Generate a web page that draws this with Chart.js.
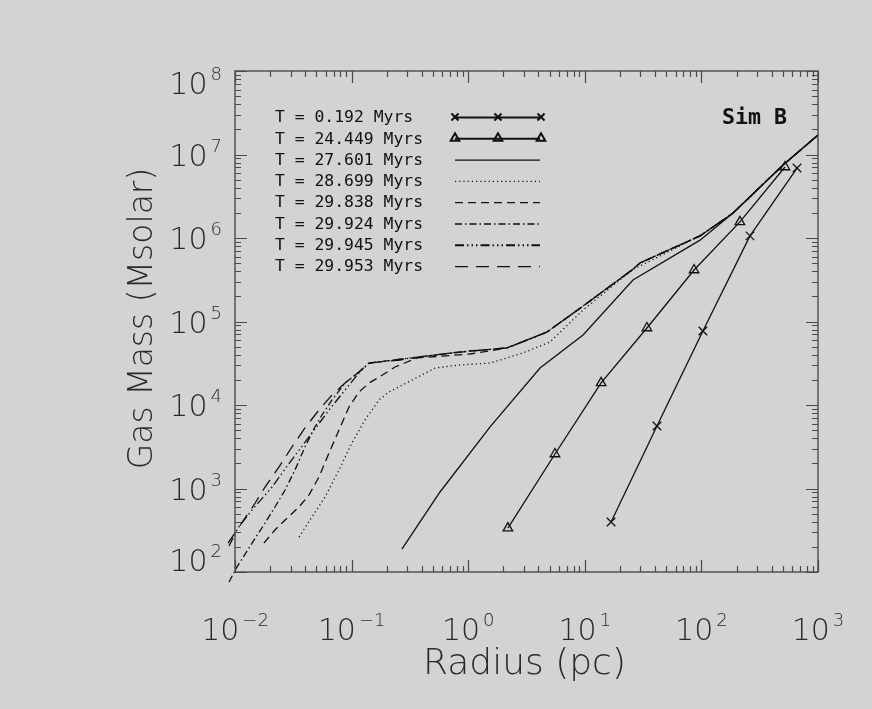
<!DOCTYPE html>
<html>
<head>
<meta charset="utf-8">
<script src="https://cdn.jsdelivr.net/npm/chart.js@4.4.1/dist/chart.umd.min.js"></script>
<style>
  html, body { margin: 0; padding: 0; background: #d3d3d3; }
  canvas { display: block; }
</style>
</head>
<body>
<canvas id="massChart" width="872" height="709"></canvas>
<script>
// Enclosed gas mass against radius for simulation B, one curve per snapshot time.

const snapshotLabels = [
  'T = 0.192 Myrs', 'T = 24.449 Myrs', 'T = 27.601 Myrs', 'T = 28.699 Myrs',
  'T = 29.838 Myrs', 'T = 29.924 Myrs', 'T = 29.945 Myrs', 'T = 29.953 Myrs'
];

// T = 0.192 Myrs
const radius0192 = [16.8, 41.6, 103, 261, 661];
const mass0192   = [397, 5610, 76900, 1.06e6, 6.89e6];

// T = 24.449 Myrs
const radius24449 = [2.19, 5.55, 13.8, 34.1, 86.5, 214, 521];
const mass24449   = [336, 2590, 18400, 83600, 414000, 1.56e6, 7.08e6];

// T = 27.601 Myrs
const radius27601 = [0.270, 0.573, 1.54, 4.13, 9.66, 25.9, 97.3, 187, 501, 1000];
const mass27601   = [188, 908, 5460, 27700, 68900, 314000, 943000, 1.99e6, 7.48e6, 1.71e7];

// outer profile common to the late snapshots
const tailRadius = [2.15, 4.74, 9.66, 25.4, 29.7, 97.3, 187, 501, 1000];
const tailMass   = [48200, 74800, 153000, 414000, 502000, 1.06e6, 1.99e6, 7.48e6, 1.71e7];

// T = 28.699 Myrs
const radius28699 = [0.0354, 0.0457, 0.0592, 0.078, 0.1007, 0.130, 0.172, 0.209, 0.330, 0.519, 0.834, 1.54, 2.95, 5.03, 9.66, 25.4, 97.3, 187, 501, 1000];
const mass28699   = [262, 456, 791, 1667, 3510, 6610, 11500, 14300, 19900, 27700, 30100, 31800, 42000, 56800, 137000, 414000, 1.06e6, 1.99e6, 7.48e6, 1.71e7];

// T = 29.838 Myrs (inner part, then the common tail)
const radius29838 = [0.0177, 0.022, 0.0269, 0.0354, 0.0431, 0.0525, 0.064, 0.078, 0.095, 0.1156, 0.141, 0.172, 0.236, 0.364, 1.035];
const mass29838   = [222, 318, 420, 600, 836, 1374, 2660, 5020, 9470, 14300, 18300, 21600, 28500, 36600, 40800];

// T = 29.924 Myrs
const radius29924 = [0.00889, 0.0104, 0.014, 0.0181, 0.022, 0.0269, 0.0327, 0.0398, 0.0485, 0.0557, 0.0679, 0.0878, 0.1156, 0.141, 0.386, 1.035];
const mass29924   = [75.9, 115, 222, 386, 600, 959, 1667, 3140, 5460, 7590, 11500, 18300, 24800, 31800, 37600, 44400];

// T = 29.945 Myrs
const radius29945 = [0.00889, 0.0106, 0.014, 0.0208, 0.0297, 0.0431, 0.064, 0.0878, 0.1156, 0.141, 0.317, 0.851];
const mass29945   = [205, 337, 553, 1042, 2075, 4140, 8710, 15100, 24200, 31800, 36600, 43200];

// T = 29.953 Myrs
const radius29953 = [0.00871, 0.0104, 0.0149, 0.0181, 0.0238, 0.0308, 0.0398, 0.0525, 0.0679, 0.0878, 0.1156, 0.141, 0.26, 0.698];
const mass29953   = [222, 318, 670, 1042, 1807, 3140, 5310, 8710, 13200, 18300, 24800, 31800, 34600, 42000];

// axis decades (powers of ten)
const radiusExponents = [-2, -1, 0, 1, 2, 3];
const massExponents   = [2, 3, 4, 5, 6, 7, 8];

const INK = '#111111';
const AXIS = '#4a4a4a';
const BG = '#d3d3d3';
const THIN = '"DejaVu Sans", "Liberation Sans", sans-serif';

function pairs(rs, ms) { return rs.map((r, i) => ({ x: r, y: ms[i] })); }

const styles = [
  { dash: [], marker: 'crossRot', size: 6 },
  { dash: [], marker: 'triangle', size: 5.5 },
  { dash: [] },
  { dash: [1.2, 3] },
  { dash: [8, 5] },
  { dash: [7, 3, 1.5, 3] },
  { dash: [9, 3, 1.5, 3, 1.5, 3, 1.5, 3] },
  { dash: [13, 8] }
];

const series = [
  pairs(radius0192, mass0192),
  pairs(radius24449, mass24449),
  pairs(radius27601, mass27601),
  pairs(radius28699, mass28699),
  pairs(radius29838.concat(tailRadius), mass29838.concat(tailMass)),
  pairs(radius29924.concat(tailRadius), mass29924.concat(tailMass)),
  pairs(radius29945.concat(tailRadius), mass29945.concat(tailMass)),
  pairs(radius29953.concat(tailRadius), mass29953.concat(tailMass))
];

const datasets = series.map((data, i) => ({
  label: snapshotLabels[i],
  data,
  showLine: true,
  borderColor: INK,
  backgroundColor: 'rgba(0,0,0,0)',
  borderWidth: 1.3,
  borderDash: styles[i].dash,
  pointStyle: styles[i].marker || false,
  pointRadius: styles[i].marker ? styles[i].size : 0,
  pointBorderWidth: 1.3,
  pointBorderColor: INK,
  pointBackgroundColor: 'rgba(0,0,0,0)',
  tension: 0,
  clip: false
}));

function drawPower(ctx, exp, x, y, align) {
  const base = '10';
  const sup = String(exp).replace('-', '\u2212');
  ctx.font = `200 30px ${THIN}`;
  const wb = ctx.measureText(base).width;
  ctx.font = `200 18px ${THIN}`;
  const ws = ctx.measureText(sup).width;
  const gap = 3;
  const total = wb + gap + ws;
  const left = align === 'right' ? x - total : x - total / 2;
  ctx.textAlign = 'left';
  ctx.textBaseline = 'alphabetic';
  ctx.font = `200 30px ${THIN}`;
  ctx.fillText(base, left, y);
  ctx.font = `200 18px ${THIN}`;
  ctx.fillText(sup, left + wb + gap, y - 14);
}

const framePlugin = {
  id: 'frame',
  beforeDraw(chart) {
    const { ctx, width, height } = chart;
    ctx.save();
    ctx.fillStyle = BG;
    ctx.fillRect(0, 0, width, height);
    ctx.restore();
  },
  afterDatasetsDraw(chart) {
    const { ctx, chartArea: a, scales } = chart;
    const xs = scales.x, ys = scales.y;
    ctx.save();
    ctx.strokeStyle = AXIS;
    ctx.lineWidth = 1.4;
    ctx.strokeRect(a.left, a.top, a.right - a.left, a.bottom - a.top);

    ctx.lineWidth = 1.2;
    ctx.beginPath();
    for (let d = 0; d < radiusExponents.length; d++) {
      const e = radiusExponents[d];
      for (let k = 1; k <= 9; k++) {
        if (d === radiusExponents.length - 1 && k > 1) break;
        const px = Math.round(xs.getPixelForValue(k * Math.pow(10, e))) + 0.5;
        const len = k === 1 ? 12 : 6;
        ctx.moveTo(px, a.bottom); ctx.lineTo(px, a.bottom - len);
        ctx.moveTo(px, a.top); ctx.lineTo(px, a.top + len);
      }
    }
    for (let d = 0; d < massExponents.length; d++) {
      const e = massExponents[d];
      for (let k = 1; k <= 9; k++) {
        if (d === massExponents.length - 1 && k > 1) break;
        const py = Math.round(ys.getPixelForValue(k * Math.pow(10, e))) + 0.5;
        const len = k === 1 ? 12 : 6;
        ctx.moveTo(a.left, py); ctx.lineTo(a.left + len, py);
        ctx.moveTo(a.right, py); ctx.lineTo(a.right - len, py);
      }
    }
    ctx.stroke();

    // tick labels
    ctx.fillStyle = '#2a2a2a';
    radiusExponents.forEach(e => {
      const px = xs.getPixelForValue(Math.pow(10, e));
      drawPower(ctx, e, px, a.bottom + 68, 'center');
    });
    massExponents.forEach(e => {
      const py = ys.getPixelForValue(Math.pow(10, e));
      const cy = Math.min(Math.max(py, a.top + 12), a.bottom - 12);
      drawPower(ctx, e, a.left - 13, cy + 11, 'right');
    });

    // axis titles
    ctx.font = `200 36px ${THIN}`;
    ctx.textAlign = 'center';
    ctx.textBaseline = 'alphabetic';
    ctx.fillText('Radius (pc)', (a.left + a.right) / 2 - 2, 674);
    ctx.save();
    ctx.translate(152, (a.top + a.bottom) / 2 - 3);
    ctx.rotate(-Math.PI / 2);
    ctx.font = `200 33px ${THIN}`;
    ctx.fillText('Gas Mass (Msolar)', 0, 0);
    ctx.restore();

    // key
    ctx.fillStyle = INK;
    ctx.font = '16.4px "DejaVu Sans Mono", monospace';
    ctx.textAlign = 'left';
    ctx.textBaseline = 'middle';
    chart.data.datasets.forEach((ds, i) => {
      const y = 117 + i * 21.3;
      ctx.fillText(ds.label, 275, y + 1);
      ctx.save();
      ctx.strokeStyle = INK;
      ctx.fillStyle = 'rgba(0,0,0,0)';
      const marked = !!styles[i].marker;
      ctx.lineWidth = marked || i === 6 ? 2 : 1.3;
      ctx.setLineDash(ds.borderDash);
      ctx.beginPath();
      ctx.moveTo(455, y + 0.5);
      ctx.lineTo(540, y + 0.5);
      ctx.stroke();
      ctx.setLineDash([]);
      if (marked) {
        [455, 498, 541].forEach(mx => {
          Chart.helpers.drawPoint(ctx, {
            pointStyle: styles[i].marker, radius: 5, rotation: 0, borderWidth: 2
          }, mx, y);
        });
      }
      ctx.restore();
    });

    ctx.font = 'bold 21.6px "DejaVu Sans Mono", monospace';
    ctx.textAlign = 'left';
    ctx.fillText('Sim B', 722, 118);
    ctx.restore();
  }
};

new Chart(document.getElementById('massChart'), {
  type: 'scatter',
  data: { datasets },
  options: {
    responsive: false,
    animation: false,
    layout: { padding: { left: 235, right: 54, top: 71, bottom: 137 } },
    plugins: { legend: { display: false }, tooltip: { enabled: false } },
    scales: {
      x: { type: 'logarithmic', min: 0.01, max: 1000, display: false },
      y: { type: 'logarithmic', min: 100, max: 1e8, display: false }
    }
  },
  plugins: [framePlugin]
});
</script>
</body>
</html>
